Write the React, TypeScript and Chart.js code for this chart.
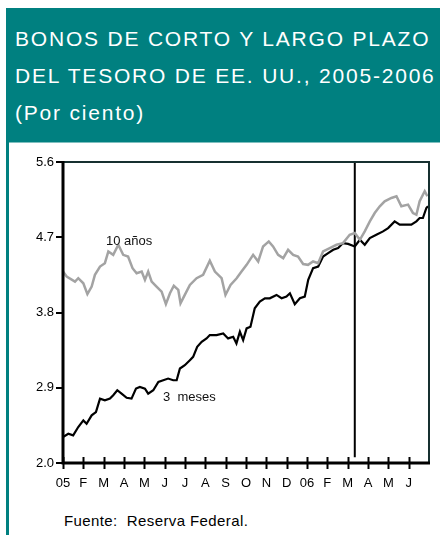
import React, { useEffect, useRef } from "react";
import { Chart, registerables } from "chart.js";

Chart.register(...registerables);

// Month index (0 = January 2005) and yields, in percent
const monthLabels = ["05", "F", "M", "A", "M", "J", "J", "A", "S", "O", "N", "D", "06", "F", "M", "A", "M", "J"];
const yTicks = [2.0, 2.9, 3.8, 4.7, 5.6];

const tenYearMonths = [0, 0.18, 0.59, 0.75, 1.0, 1.2, 1.41, 1.57, 1.82, 2.06, 2.23, 2.47, 2.72, 2.96, 3.2, 3.42, 3.62, 3.87, 4.03, 4.19, 4.36, 4.6, 4.85, 5.06, 5.26, 5.45, 5.67, 5.78, 5.99, 6.24, 6.57, 6.89, 7.22, 7.47, 7.8, 7.99, 8.24, 8.54, 8.78, 9.03, 9.35, 9.6, 9.84, 10.12, 10.33, 10.58, 10.83, 11.07, 11.32, 11.56, 11.81, 12.05, 12.3, 12.55, 12.79, 13.12, 13.45, 13.77, 14.1, 14.35, 14.6, 14.84, 15.09, 15.33, 15.58, 15.82, 16.15, 16.4, 16.64, 16.97, 17.21, 17.38, 17.54, 17.79, 17.92];
const tenYearValues = [4.29, 4.23, 4.17, 4.21, 4.15, 4.02, 4.11, 4.25, 4.35, 4.39, 4.53, 4.49, 4.61, 4.49, 4.47, 4.33, 4.27, 4.29, 4.19, 4.29, 4.17, 4.11, 4.05, 3.9, 4.03, 4.12, 4.07, 3.91, 4.01, 4.13, 4.21, 4.25, 4.42, 4.29, 4.21, 4.01, 4.13, 4.21, 4.29, 4.37, 4.49, 4.41, 4.59, 4.65, 4.59, 4.49, 4.45, 4.55, 4.49, 4.47, 4.38, 4.37, 4.41, 4.39, 4.53, 4.57, 4.61, 4.63, 4.73, 4.75, 4.67, 4.77, 4.89, 4.99, 5.07, 5.13, 5.17, 5.19, 5.07, 5.09, 4.99, 4.97, 5.13, 5.25, 5.19];

const threeMonthMonths = [0, 0.26, 0.5, 0.75, 1.0, 1.16, 1.41, 1.62, 1.82, 2.06, 2.31, 2.47, 2.67, 2.88, 3.13, 3.37, 3.59, 3.78, 4.03, 4.19, 4.44, 4.69, 4.93, 5.17, 5.42, 5.59, 5.75, 5.99, 6.24, 6.4, 6.6, 6.82, 7.06, 7.22, 7.55, 7.88, 8.12, 8.37, 8.53, 8.7, 8.86, 9.03, 9.22, 9.43, 9.68, 9.93, 10.17, 10.5, 10.75, 10.99, 11.16, 11.4, 11.65, 11.89, 12.06, 12.3, 12.55, 12.79, 13.04, 13.29, 13.53, 13.77, 14.02, 14.35, 14.6, 14.84, 15.09, 15.41, 15.74, 15.99, 16.31, 16.56, 16.81, 17.13, 17.38, 17.54, 17.7, 17.87, 17.95];
const threeMonthValues = [2.31, 2.35, 2.33, 2.43, 2.51, 2.47, 2.57, 2.61, 2.77, 2.75, 2.77, 2.81, 2.87, 2.83, 2.78, 2.77, 2.89, 2.91, 2.89, 2.83, 2.87, 2.97, 2.99, 3.01, 2.99, 2.99, 3.13, 3.17, 3.23, 3.27, 3.39, 3.45, 3.49, 3.53, 3.53, 3.55, 3.49, 3.51, 3.43, 3.57, 3.47, 3.61, 3.63, 3.85, 3.93, 3.97, 3.97, 4.01, 3.97, 3.99, 4.03, 3.9, 3.97, 3.99, 4.19, 4.33, 4.35, 4.47, 4.51, 4.55, 4.57, 4.63, 4.62, 4.59, 4.67, 4.61, 4.69, 4.73, 4.77, 4.81, 4.89, 4.85, 4.85, 4.85, 4.89, 4.93, 4.93, 5.05, 5.07];

const markerMonth = [14.35, 14.35];
const markerValues = [2.07, 5.6];

const seriesNotes = [
  { text: "10 años", month: 2.11, value: 4.655 },
  { text: "3  meses", month: 4.92, value: 2.79 },
];

const TEAL = "#008080";
const FONT = "'Liberation Sans', Arial, sans-serif";

const toPoints = (xs: number[], ys: number[]) => xs.map((x, i) => ({ x, y: ys[i] }));

const framePlugin = {
  id: "frame",
  afterDatasetsDraw(chart: any) {
    const { ctx, chartArea: a, scales } = chart;
    const xs = scales.x;
    const ys = scales.y;
    ctx.save();
    // top and right frame
    ctx.strokeStyle = "#163030";
    ctx.lineWidth = 2;
    ctx.beginPath();
    ctx.moveTo(a.left, a.top);
    ctx.lineTo(a.right, a.top);
    ctx.lineTo(a.right, a.bottom);
    ctx.stroke();
    // left and bottom axes
    ctx.strokeStyle = "#000";
    ctx.lineWidth = 3;
    ctx.beginPath();
    ctx.moveTo(a.left, a.top - 1);
    ctx.lineTo(a.left, a.bottom);
    ctx.lineTo(a.right + 1, a.bottom);
    ctx.stroke();
    // ticks
    ctx.lineWidth = 2;
    ctx.beginPath();
    yTicks.forEach((v) => {
      const y = Math.round(ys.getPixelForValue(v));
      ctx.moveTo(a.left - 7, y);
      ctx.lineTo(a.left, y);
    });
    monthLabels.forEach((_, i) => {
      const x = Math.round(xs.getPixelForValue(i)) + 0.5;
      ctx.moveTo(x, a.bottom - 6);
      ctx.lineTo(x, a.bottom + 6);
    });
    ctx.stroke();
    // series notes
    ctx.fillStyle = "#111";
    ctx.font = `13px ${FONT}`;
    ctx.textBaseline = "middle";
    ctx.textAlign = "left";
    seriesNotes.forEach((n) => {
      ctx.fillText(n.text, xs.getPixelForValue(n.month), ys.getPixelForValue(n.value));
    });
    ctx.restore();
  },
};

function ChartCanvas() {
  const ref = useRef<HTMLCanvasElement | null>(null);
  useEffect(() => {
    if (!ref.current) return;
    const chart = new Chart(ref.current, {
      type: "line",
      data: {
        datasets: [
          {
            data: toPoints(tenYearMonths, tenYearValues),
            borderColor: "#a3a3a3",
            borderWidth: 2.5,
            pointRadius: 0,
            tension: 0,
          },
          {
            data: toPoints(threeMonthMonths, threeMonthValues),
            borderColor: "#000",
            borderWidth: 2.2,
            pointRadius: 0,
            tension: 0,
          },
          {
            data: toPoints(markerMonth, markerValues),
            borderColor: "#000",
            borderWidth: 2,
            pointRadius: 0,
          },
        ],
      },
      options: {
        animation: false,
        responsive: false,
        maintainAspectRatio: false,
        layout: { padding: { top: 19, right: 11, left: 0, bottom: 0 } },
        plugins: { legend: { display: false }, tooltip: { enabled: false } },
        scales: {
          x: {
            type: "linear",
            min: 0,
            max: 18,
            grid: { display: false, drawTicks: false },
            border: { display: false },
            afterBuildTicks: (s: any) => {
              s.ticks = monthLabels.map((_, i) => ({ value: i }));
            },
            afterFit: (s: any) => {
              s.height = 42;
            },
            ticks: {
              autoSkip: false,
              maxRotation: 0,
              padding: 13,
              color: "#000",
              font: { family: FONT, size: 13 },
              callback: (v: any) => monthLabels[Math.round(Number(v))] ?? "",
            },
          },
          y: {
            min: 2.0,
            max: 5.6,
            grid: { display: false, drawTicks: false },
            border: { display: false },
            afterBuildTicks: (s: any) => {
              s.ticks = yTicks.map((v) => ({ value: v }));
            },
            afterFit: (s: any) => {
              s.width = 54;
            },
            ticks: {
              padding: 9,
              color: "#000",
              font: { family: FONT, size: 13 },
              callback: (v: any) => Number(v).toFixed(1),
            },
          },
        },
      },
      plugins: [framePlugin],
    });
    return () => chart.destroy();
  }, []);
  return (
    <canvas
      ref={ref}
      width={431}
      height={362}
      style={{ position: "absolute", left: 9, top: 143, width: 431, height: 362 }}
    />
  );
}

export default function App() {
  return (
    <div
      style={{
        position: "absolute",
        left: 0,
        top: 0,
        width: 440,
        height: 537,
        background: "#fff",
        fontFamily: FONT,
        overflow: "hidden",
      }}
    >
      <div
        style={{
          position: "absolute",
          left: 6,
          top: 8,
          width: 434,
          height: 134,
          background: TEAL,
          color: "#fff",
          fontSize: 21,
          lineHeight: "37px",
          letterSpacing: "1.8px",
          whiteSpace: "nowrap",
          boxSizing: "border-box",
          paddingLeft: 9,
          paddingTop: 12,
        }}
      >
        BONOS DE CORTO Y LARGO PLAZO
        <br />
        DEL TESORO DE EE. UU., 2005-2006
        <br />
        (Por ciento)
      </div>
      <div style={{ position: "absolute", left: 6, top: 142, width: 434, height: 1, background: "#7fbfbf" }} />
      <div style={{ position: "absolute", left: 6, top: 142, width: 3, height: 393, background: TEAL }} />
      <ChartCanvas />
      <div
        style={{
          position: "absolute",
          left: 64,
          top: 512,
          fontSize: 15,
          lineHeight: "18px",
          letterSpacing: "0.4px",
          color: "#000",
          whiteSpace: "pre",
        }}
      >
        {"Fuente:  Reserva Federal."}
      </div>
    </div>
  );
}
